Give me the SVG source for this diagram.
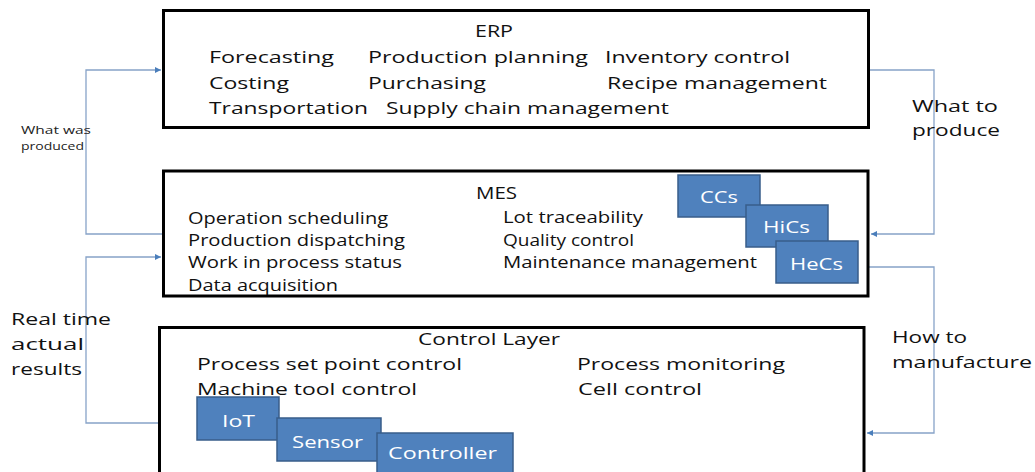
<svg xmlns="http://www.w3.org/2000/svg" width="1035" height="472" viewBox="0 0 1035 472">
<style>
.t{font-family:"Open Sans","Liberation Sans",sans-serif;font-size:17px;fill:#111}
.s{font-family:"Open Sans","Liberation Sans",sans-serif;font-size:11.5px;fill:#222}
.w{font-family:"Open Sans","Liberation Sans",sans-serif;font-size:17px;fill:#fff}
.box{fill:#fff;stroke:#000;stroke-width:3}
.blue{fill:#4F81BD;stroke:#385D8A;stroke-width:1.5}
.c{fill:none;stroke:#87A3C8;stroke-width:1.3}
</style>
<defs>
<marker id="ah" viewBox="0 0 10 10" refX="10" refY="5" markerWidth="7" markerHeight="6" markerUnits="userSpaceOnUse" orient="auto">
<path d="M0,0 L10,5 L0,10 z" fill="#4A7EBB"/>
</marker>
</defs>
<rect width="1035" height="472" fill="#fff"/>

<g id="connectors">
<path class="c" d="M162,234 H86 V70 H161" marker-end="url(#ah)"/>
<path class="c" d="M158,423 H86 V257 H161" marker-end="url(#ah)"/>
<path class="c" d="M870,70 H934 V234 H871" marker-end="url(#ah)"/>
<path class="c" d="M869,267 H934 V433 H867" marker-end="url(#ah)"/>
</g>

<g id="erp">
<rect class="box" x="163.5" y="10.5" width="705" height="117"/>
<text class="t" x="475" y="37" textLength="38" lengthAdjust="spacingAndGlyphs">ERP</text>
<text class="t" x="209" y="63" textLength="125" lengthAdjust="spacingAndGlyphs">Forecasting</text>
<text class="t" x="368" y="63" textLength="220" lengthAdjust="spacingAndGlyphs">Production planning</text>
<text class="t" x="605" y="63" textLength="185" lengthAdjust="spacingAndGlyphs">Inventory control</text>
<text class="t" x="209" y="89" textLength="80" lengthAdjust="spacingAndGlyphs">Costing</text>
<text class="t" x="368" y="89" textLength="118" lengthAdjust="spacingAndGlyphs">Purchasing</text>
<text class="t" x="607" y="89" textLength="220" lengthAdjust="spacingAndGlyphs">Recipe management</text>
<text class="t" x="209" y="114" textLength="159" lengthAdjust="spacingAndGlyphs">Transportation</text>
<text class="t" x="386" y="114" textLength="283" lengthAdjust="spacingAndGlyphs">Supply chain management</text>
</g>

<g id="mes">
<rect class="box" x="163.5" y="171" width="704.5" height="125"/>
<text class="t" x="476" y="199" textLength="41" lengthAdjust="spacingAndGlyphs">MES</text>
<text class="t" x="188" y="224" textLength="200" lengthAdjust="spacingAndGlyphs">Operation scheduling</text>
<text class="t" x="188" y="246" textLength="217" lengthAdjust="spacingAndGlyphs">Production dispatching</text>
<text class="t" x="188" y="268" textLength="214" lengthAdjust="spacingAndGlyphs">Work in process status</text>
<text class="t" x="188" y="291" textLength="150" lengthAdjust="spacingAndGlyphs">Data acquisition</text>
<text class="t" x="503" y="223" textLength="140" lengthAdjust="spacingAndGlyphs">Lot traceability</text>
<text class="t" x="503" y="246" textLength="131" lengthAdjust="spacingAndGlyphs">Quality control</text>
<text class="t" x="503" y="268" textLength="254" lengthAdjust="spacingAndGlyphs">Maintenance management</text>
</g>

<g id="ccs">
<rect class="blue" x="678" y="175" width="82" height="42"/>
<text class="w" x="700" y="203" textLength="38" lengthAdjust="spacingAndGlyphs">CCs</text>
</g>
<g id="hics">
<rect class="blue" x="746" y="205" width="82" height="42"/>
<text class="w" x="763" y="233" textLength="47" lengthAdjust="spacingAndGlyphs">HiCs</text>
</g>
<g id="hecs">
<rect class="blue" x="776" y="241" width="82" height="42"/>
<text class="w" x="790" y="270" textLength="53" lengthAdjust="spacingAndGlyphs">HeCs</text>
</g>

<g id="control">
<rect class="box" x="159.5" y="327.5" width="704.5" height="160"/>
<text class="t" x="418" y="345" textLength="142" lengthAdjust="spacingAndGlyphs">Control Layer</text>
<text class="t" x="197" y="370" textLength="265" lengthAdjust="spacingAndGlyphs">Process set point control</text>
<text class="t" x="197" y="395" textLength="220" lengthAdjust="spacingAndGlyphs">Machine tool control</text>
<text class="t" x="577" y="370" textLength="208" lengthAdjust="spacingAndGlyphs">Process monitoring</text>
<text class="t" x="578" y="395" textLength="124" lengthAdjust="spacingAndGlyphs">Cell control</text>
</g>

<g id="iot">
<rect class="blue" x="197" y="397" width="82" height="43"/>
<text class="w" x="222" y="427" textLength="33" lengthAdjust="spacingAndGlyphs">IoT</text>
</g>
<g id="sensor">
<rect class="blue" x="277" y="418" width="104" height="43"/>
<text class="w" x="292" y="448" textLength="71" lengthAdjust="spacingAndGlyphs">Sensor</text>
</g>
<g id="controller">
<rect class="blue" x="377" y="433" width="136" height="45"/>
<text class="w" x="388" y="459" textLength="109" lengthAdjust="spacingAndGlyphs">Controller</text>
</g>

<g id="labels">
<text class="s" x="21" y="134" textLength="70" lengthAdjust="spacingAndGlyphs">What was</text>
<text class="s" x="21" y="150" textLength="63" lengthAdjust="spacingAndGlyphs">produced</text>
<text class="t" x="912" y="112" textLength="86" lengthAdjust="spacingAndGlyphs">What to</text>
<text class="t" x="912" y="136" textLength="88" lengthAdjust="spacingAndGlyphs">produce</text>
<text class="t" x="11" y="325" textLength="100" lengthAdjust="spacingAndGlyphs">Real time</text>
<text class="t" x="11" y="350" textLength="73" lengthAdjust="spacingAndGlyphs">actual</text>
<text class="t" x="11" y="375" textLength="71" lengthAdjust="spacingAndGlyphs">results</text>
<text class="t" x="892" y="343" textLength="75" lengthAdjust="spacingAndGlyphs">How to</text>
<text class="t" x="892" y="368" textLength="140" lengthAdjust="spacingAndGlyphs">manufacture</text>
</g>
</svg>
